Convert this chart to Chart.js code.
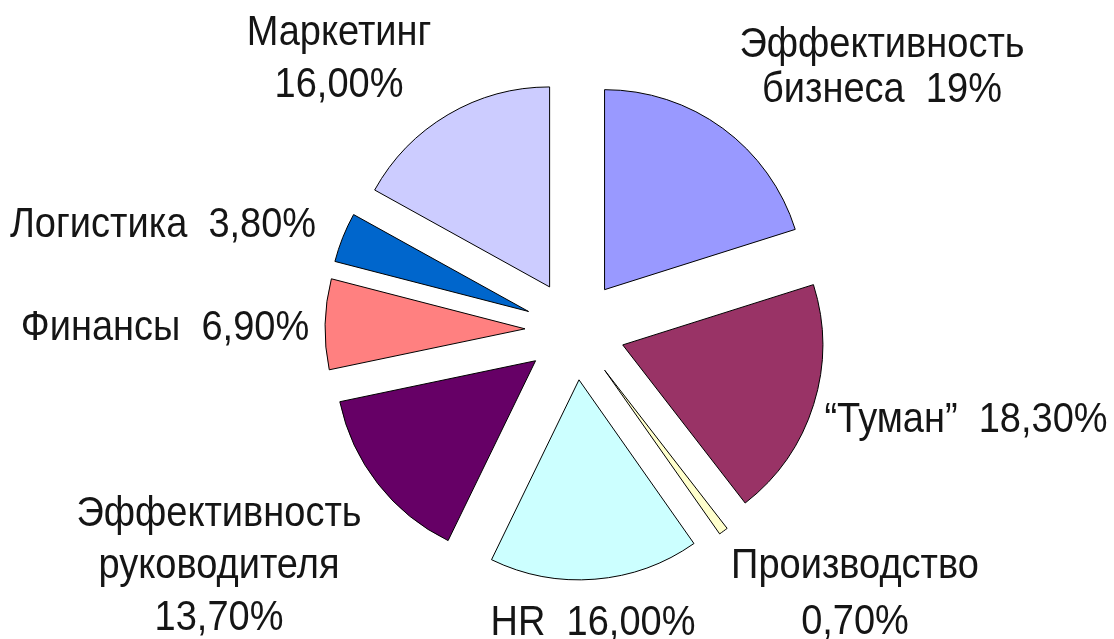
<!DOCTYPE html>
<html>
<head>
<meta charset="utf-8">
<script src="https://cdn.jsdelivr.net/npm/chart.js@4/dist/chart.umd.min.js"></script>
<style>
html, body { margin: 0; padding: 0; background: #ffffff; }
#wrap { width: 1114px; height: 639px; position: relative; }
</style>
</head>
<body>
<div id="wrap"><canvas id="c"></canvas></div>
<script>
// ---- data ----
const categories = ['Эффективность бизнеса', '“Туман”', 'Производство', 'HR',
                    'Эффективность руководителя', 'Финансы', 'Логистика', 'Маркетинг'];
const values = [19, 18.3, 0.7, 16.0, 13.7, 6.9, 3.8, 16.0];
const labelLines = [
  ['Эффективность', 'бизнеса  19%'],
  ['“Туман”  18,30%'],
  ['Производство', '0,70%'],
  ['HR  16,00%'],
  ['Эффективность', 'руководителя', '13,70%'],
  ['Финансы  6,90%'],
  ['Логистика  3,80%'],
  ['Маркетинг', '16,00%']
];

// ---- styles ----
const sliceColors = ['#9999FF', '#993366', '#FFFFCC', '#CCFFFF', '#660066', '#FF8080', '#0066CC', '#CCCCFF'];
const EXPLODE = 50;          // px each slice is pulled out from the centre
const PIE_RADIUS = 200;
// label anchors relative to the pie centre: dx (text centre), dy (first baseline), line height
const labelLayout = [
  { dx: 307, dy: -273, lh: 45 },
  { dx: 391, dy: 102, lh: 0 },
  { dx: 280, dy: 248, lh: 56 },
  { dx: 18, dy: 305, lh: 0 },
  { dx: -356, dy: 196, lh: 52 },
  { dx: -410, dy: 10, lh: 0 },
  { dx: -412, dy: -93, lh: 0 },
  { dx: -236, dy: -285, lh: 52 }
];
const LABEL_FONT = '38px "Liberation Sans", Arial, sans-serif';
const LABEL_STRETCH_Y = 1.1;

const explodePlugin = {
  id: 'explode',
  afterDatasetUpdate(chart, args) {
    args.meta.data.forEach(arc => {
      const mid = (arc.startAngle + arc.endAngle) / 2;
      arc.x += Math.cos(mid) * EXPLODE;
      arc.y += Math.sin(mid) * EXPLODE;
    });
  }
};

const labelPlugin = {
  id: 'outerLabels',
  afterDraw(chart) {
    const ctx = chart.ctx;
    const a = chart.chartArea;
    const cx = (a.left + a.right) / 2;
    const cy = (a.top + a.bottom) / 2;
    ctx.save();
    ctx.font = LABEL_FONT;
    ctx.fillStyle = '#151515';
    ctx.textAlign = 'center';
    ctx.textBaseline = 'alphabetic';
    labelLines.forEach((lines, i) => {
      const L = labelLayout[i];
      lines.forEach((t, j) => {
        ctx.save();
        ctx.translate(cx + L.dx, cy + L.dy + j * L.lh);
        ctx.scale(1, LABEL_STRETCH_Y);
        ctx.fillText(t, 0, 0);
        ctx.restore();
      });
    });
    ctx.restore();
  }
};

new Chart(document.getElementById('c'), {
  type: 'pie',
  data: {
    labels: categories,
    datasets: [{
      data: values,
      backgroundColor: sliceColors,
      borderColor: '#000000',
      borderWidth: 1,
      radius: PIE_RADIUS,
      offset: 0
    }]
  },
  options: {
    responsive: true,
    maintainAspectRatio: false,
    animation: false,
    events: [],
    layout: { padding: { left: 36, right: 0, top: 21, bottom: 0 } },
    plugins: {
      legend: { display: false },
      tooltip: { enabled: false }
    }
  },
  plugins: [explodePlugin, labelPlugin]
});
</script>
</body>
</html>
